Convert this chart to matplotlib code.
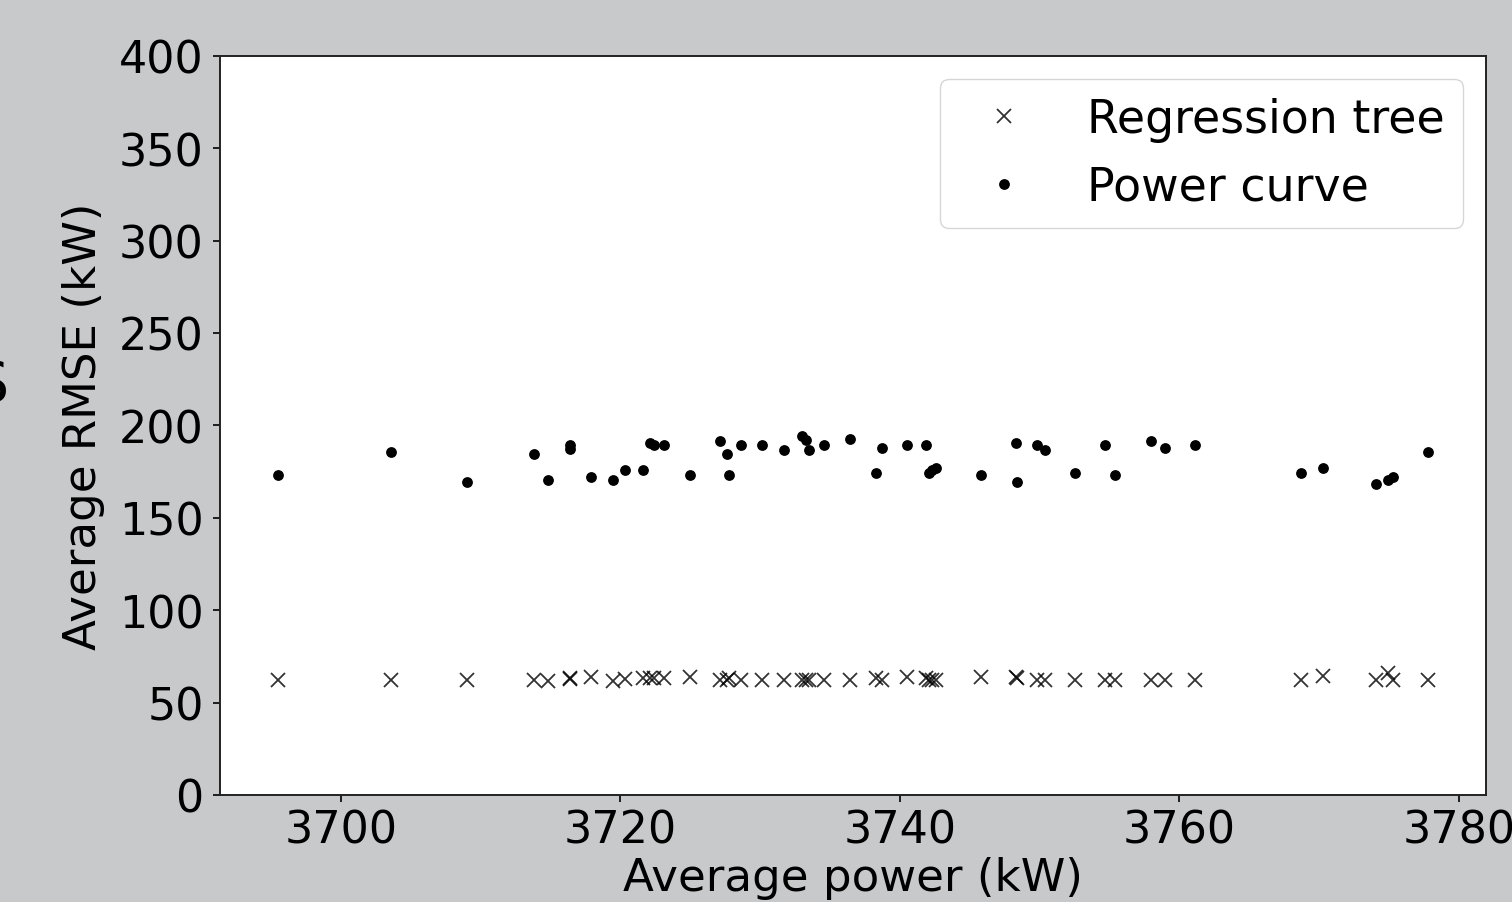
import matplotlib
matplotlib.use("Agg")
import matplotlib.pyplot as plt
import numpy as np

# average power of each test window (kW)
power = [3695.5, 3703.6, 3709.0, 3713.8, 3714.8, 3716.4, 3716.4, 3717.9, 3719.5, 3720.3,
         3721.6, 3722.1, 3722.4, 3723.1, 3725.0, 3727.1, 3727.6, 3727.8, 3728.6, 3730.1,
         3731.7, 3733.0, 3733.3, 3733.5, 3734.6, 3736.4, 3738.3, 3738.7, 3740.5, 3741.9,
         3742.1, 3742.3, 3742.6, 3745.8, 3748.3, 3748.4, 3749.8, 3750.4, 3752.5, 3754.7,
         3755.4, 3758.0, 3759.0, 3761.1, 3768.7, 3770.3, 3774.1, 3774.9, 3775.3, 3777.8]

# RMSE of the regression tree (kW)
rmse_tree = [62.4, 62.4, 62.4, 62.4, 61.6, 63.4, 62.8, 63.7, 61.9, 62.8,
             63.4, 63.4, 63.4, 63.4, 63.6, 62.3, 62.3, 63.4, 62.3, 62.3,
             62.3, 62.3, 62.3, 62.3, 62.3, 62.3, 63.4, 62.3, 63.6, 63.4,
             62.3, 62.3, 62.3, 63.6, 63.9, 63.4, 62.3, 62.3, 62.3, 62.3,
             62.3, 62.3, 62.3, 62.3, 62.3, 64.3, 62.3, 66.1, 62.3, 62.3]

# RMSE of the power curve (kW)
rmse_curve = [172.9, 185.4, 169.5, 184.3, 170.6, 189.1, 187.4, 171.8, 170.6, 175.6,
              175.6, 190.4, 189.1, 189.1, 173.1, 191.5, 184.3, 173.1, 189.1, 189.1,
              186.7, 194.2, 191.9, 186.7, 189.1, 192.8, 174.4, 187.7, 189.1, 189.1,
              174.4, 175.6, 176.9, 173.1, 190.4, 169.5, 189.1, 186.7, 174.4, 189.1,
              173.1, 191.5, 187.7, 189.1, 174.4, 176.9, 168.2, 170.6, 171.8, 185.4]

plt.rcParams['font.family'] = 'DejaVu Sans'
plt.rcParams['font.size'] = 32.5

fig = plt.figure(figsize=(15.12, 9.03), dpi=100, facecolor='#c8c9cb')
ax = fig.add_axes([0.1458, 0.1185, 0.8368, 0.8187])

ax.plot(power, rmse_tree, 'x', color='black', ms=10, mew=1.3, alpha=0.8, label='Regression tree')
ax.plot(power, rmse_curve, '.', color='black', ms=13.5, label='Power curve')

ax.set_ylim(0, 400)
ax.set_xticks([3700, 3720, 3740, 3760, 3780])
ax.set_yticks(np.arange(0, 401, 50))
ax.tick_params(length=5, width=1.2, labelsize=32, pad=7)
ax.tick_params(axis='x', pad=5)
for s in ax.spines.values():
    s.set_linewidth(1.4)
    s.set_color('#222222')

ax.set_xlabel('Average power (kW)', labelpad=3)
ax.set_ylabel('Average RMSE (kW)', labelpad=10)
ax.legend(loc='upper right', fontsize=33)

# piece of a label cut off at the left edge
fig.text(0.0053, 1 - 403 / 903, 'S', fontsize=41, ha='right', va='baseline')

fig.savefig('out.png', dpi=100, facecolor=fig.get_facecolor())
